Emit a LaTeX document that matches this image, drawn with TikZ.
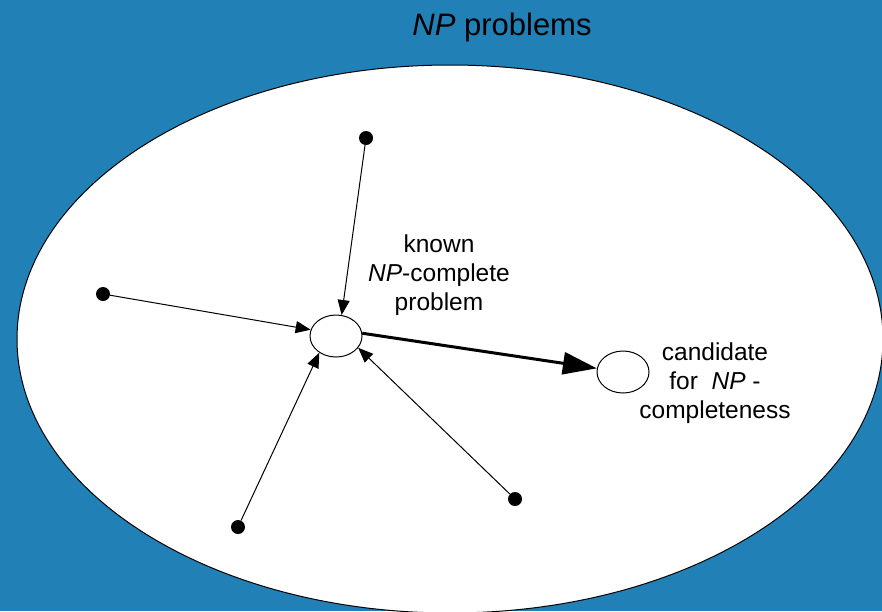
\documentclass[tikz,border=0pt]{standalone}
\usepackage{fontspec}
\setmainfont{Liberation Sans}
\usetikzlibrary{arrows.meta,shapes.geometric}
\definecolor{bgblue}{RGB}{33,128,181}
\begin{document}
\begin{tikzpicture}[x=1pt,y=-1pt,
  problem/.style={ellipse,draw=black,line width=1pt,fill=white,
    minimum width=52pt,minimum height=42pt,inner sep=0pt},
  dot/.style={circle,fill=black,minimum size=14pt,inner sep=0pt},
  reduce/.style={line width=1pt,-{Triangle[length=15pt,width=12pt]}},
  mainreduce/.style={line width=3pt,-{Triangle[length=34pt,width=22pt]}},
  label/.style={font=\fontsize{24.5}{29}\selectfont,align=center,inner sep=0pt}]
  % background and bounding box
  \fill[bgblue] (0,0) rectangle (882,611);
  \useasboundingbox (0,0) rectangle (882,611);

  % title
  \node[anchor=base,inner sep=0pt,font=\fontsize{31}{36}\selectfont] (title) at (502,35)
    {\textit{NP} problems};

  % the class of NP problems
  \node[ellipse,draw=black,line width=1pt,fill=white,
    minimum width=866pt,minimum height=548pt,inner sep=0pt] (np) at (450,339) {};

  % problems
  \node[problem] (known) at (336,336) {};
  \node[problem] (cand) at (623,372) {};

  % other NP problems
  \node[dot] (d1) at (366,138) {};
  \node[dot] (d2) at (103,294) {};
  \node[dot] (d3) at (238,527) {};
  \node[dot] (d4) at (515,499) {};

  % reductions
  \draw[reduce] (d1) -- (known.75);
  \draw[reduce] (d2) -- (known.166);
  \draw[reduce] (d3) -- (known.225);
  \draw[reduce] (d4) -- (known.-28);
  \draw[mainreduce] (known.6) -- (cand.172);

  % labels
  \node[label] (knownlabel) at (439,275)
    {known\\\textit{NP}-complete\\problem};
  \node[label] (candlabel) at (715,383)
    {candidate\\for\ \ \textit{NP} -\\completeness};
\end{tikzpicture}
\end{document}
